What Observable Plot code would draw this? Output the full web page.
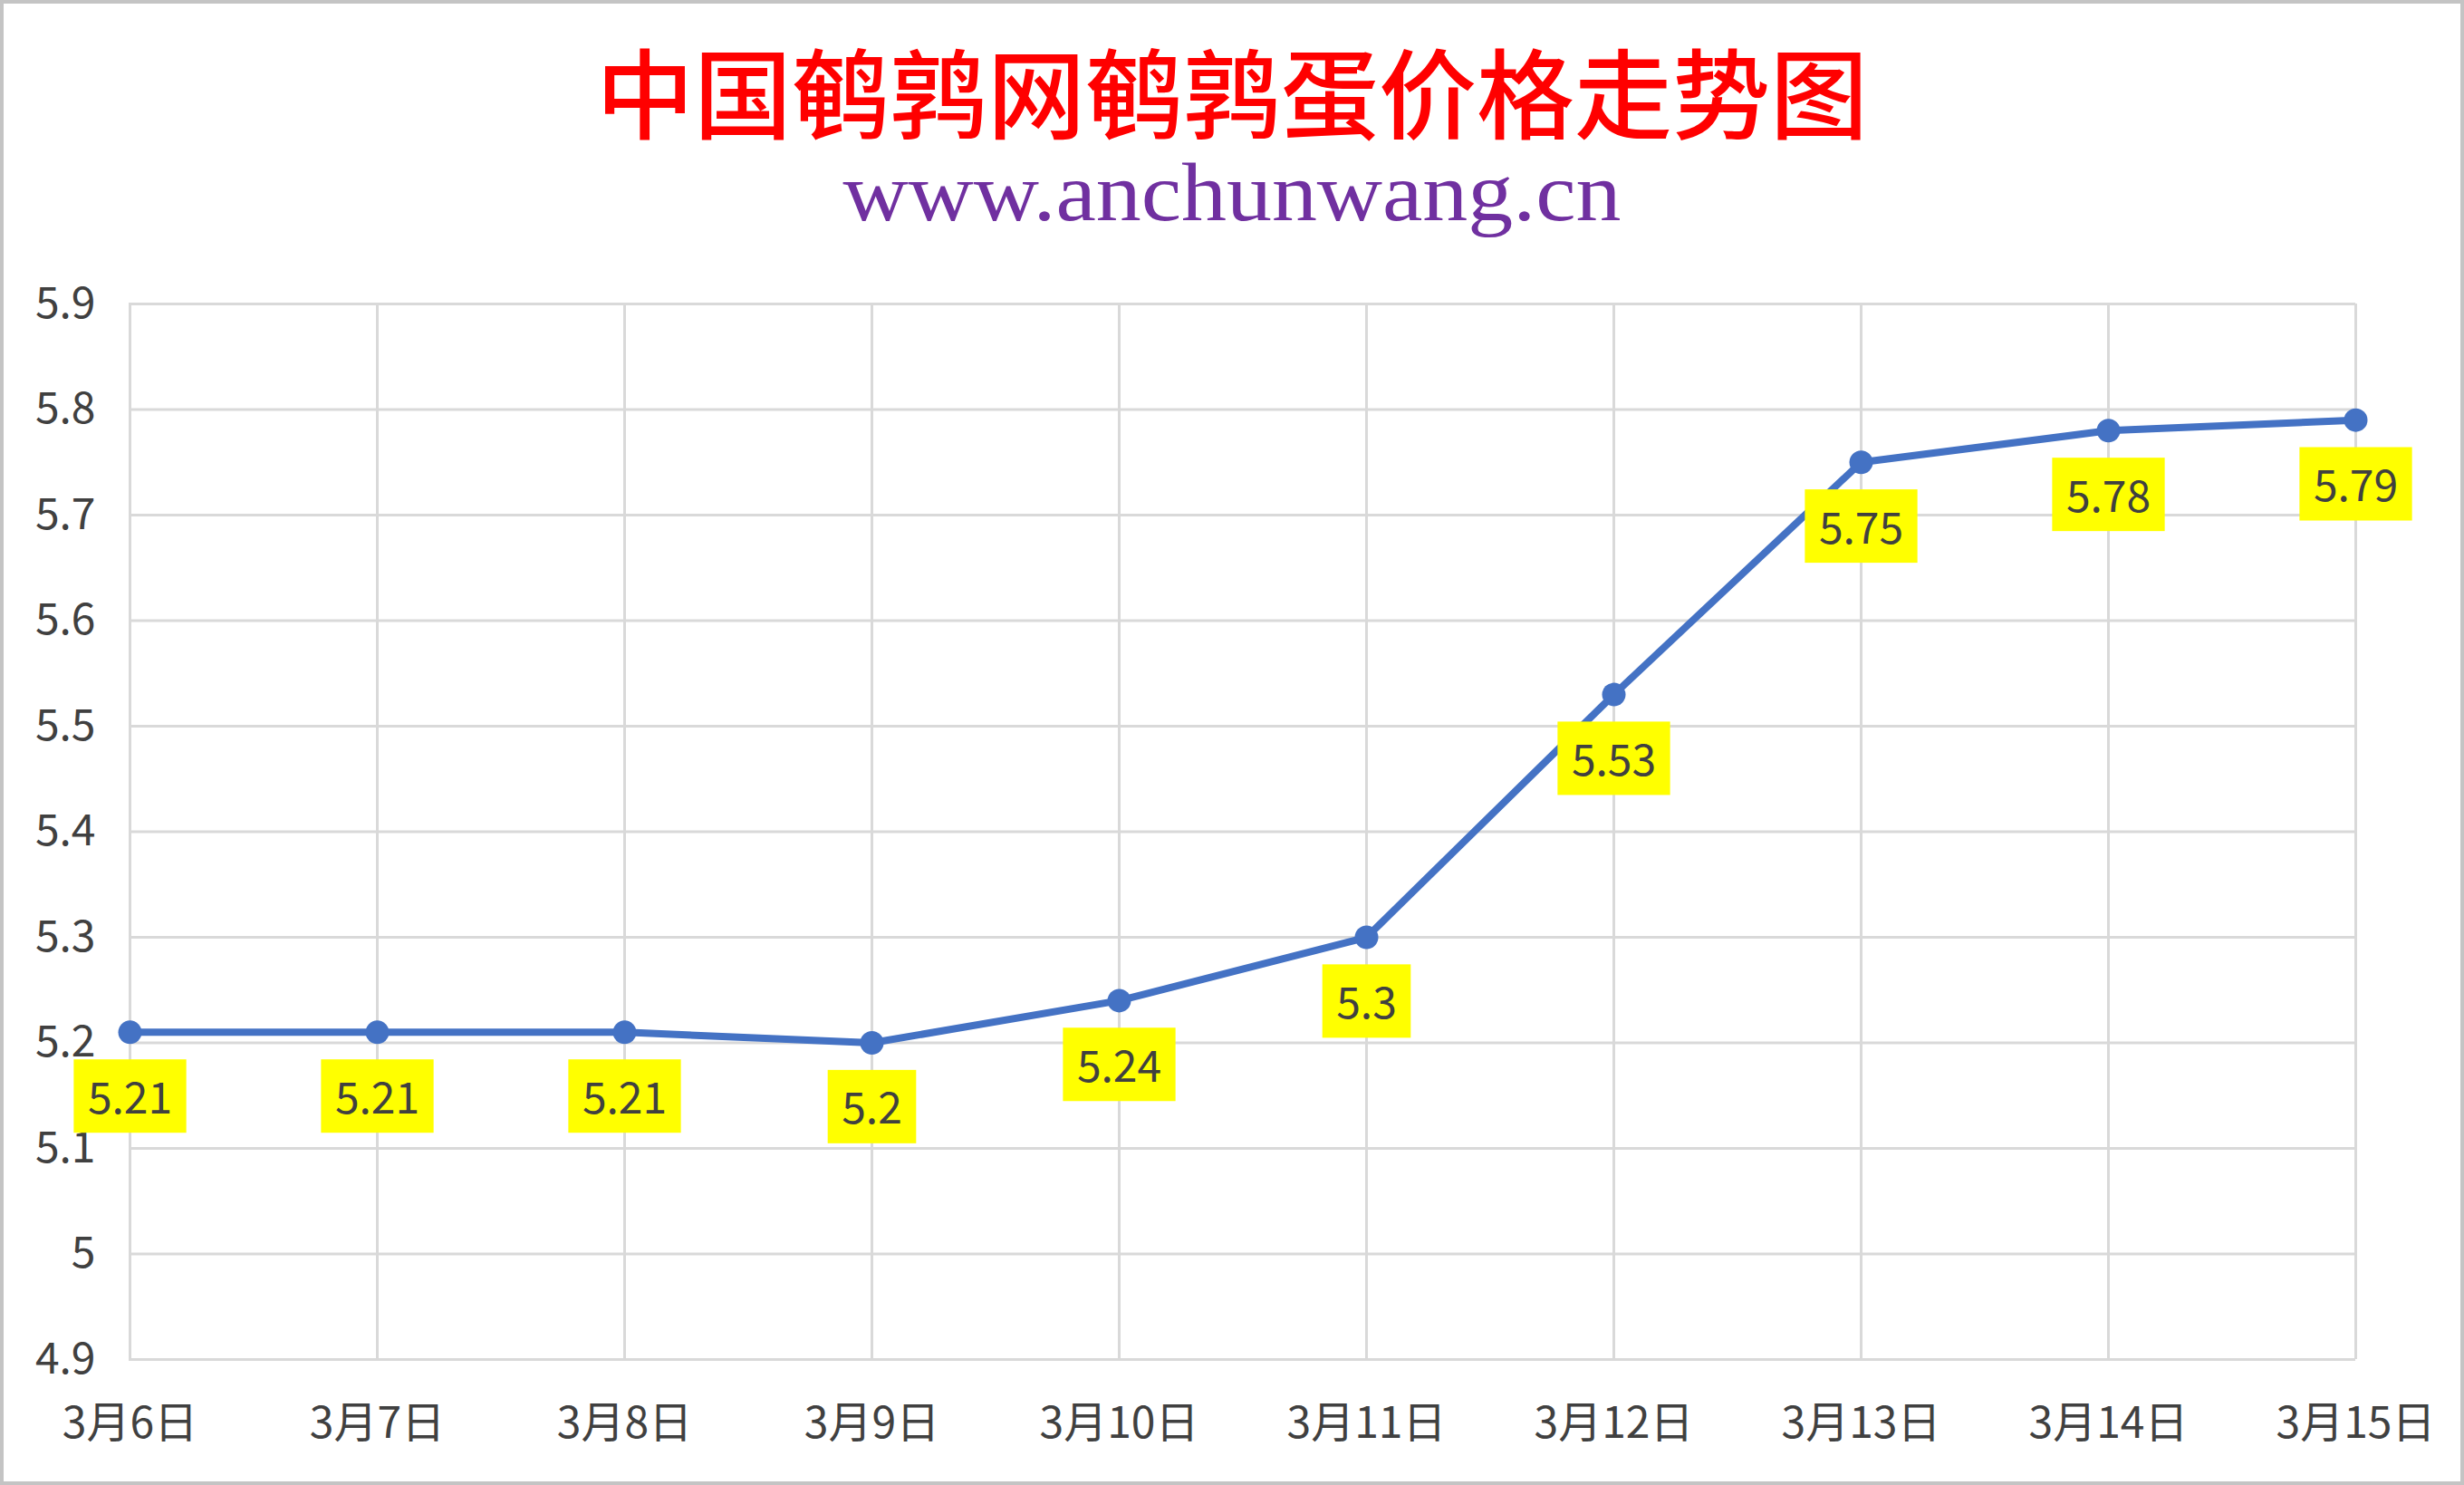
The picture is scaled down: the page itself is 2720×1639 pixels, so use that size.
<!DOCTYPE html>
<html>
<head>
<meta charset="utf-8">
<script src="https://cdn.jsdelivr.net/npm/d3@7"></script>
<script src="https://cdn.jsdelivr.net/npm/@observablehq/plot@0.6"></script>
<style>
  html, body { margin: 0; padding: 0; background: #fff; }
  #wrap { position: relative; width: 2720px; height: 1639px; background: #fff; overflow: hidden; }
  #border { position: absolute; left: 0; top: 0; width: 2720px; height: 1639px; box-sizing: border-box; border: 4px solid #c4c4c4; pointer-events: none; z-index: 5; }
  #header { position: relative; width: 2720px; height: 270px; }
  #title { position: absolute; left: 0; width: 2720px; top: 44px; text-align: center;
    font-family: "Noto Sans CJK SC", sans-serif; font-weight: 500; font-size: 108px; line-height: 108px; color: #ff0000; }
  #subtitle { position: absolute; left: 0; width: 2720px; top: 168px; text-align: center;
    font-family: "Liberation Serif", "DejaVu Serif", serif; font-size: 90px; line-height: 90px; color: #7030A0;
    transform: scaleX(1.11); transform-origin: 1360px 0; }
  #chart svg { display: block; }
</style>
</head>
<body>
<div id="wrap">
  <div id="header">
    <div id="title">中国鹌鹑网鹌鹑蛋价格走势图</div>
    <div id="subtitle">www.anchunwang.cn</div>
  </div>
  <div id="chart"></div>
  <div id="border"></div>
</div>
<script>
const dates = ["3月6日", "3月7日", "3月8日", "3月9日", "3月10日", "3月11日", "3月12日", "3月13日", "3月14日", "3月15日"];
const prices = [5.21, 5.21, 5.21, 5.2, 5.24, 5.3, 5.53, 5.75, 5.78, 5.79];
const yTicks = [4.9, 5, 5.1, 5.2, 5.3, 5.4, 5.5, 5.6, 5.7, 5.8, 5.9];

const data = dates.map((d, i) => ({date: d, price: prices[i]}));

const chart = Plot.plot({
  width: 2720,
  height: 1369,
  marginTop: 65,
  marginBottom: 139,
  marginLeft: 142,
  marginRight: 120,
  style: {fontFamily: "'Noto Sans CJK SC', sans-serif", fontSize: "48px", color: "#404040", background: "transparent"},
  x: {type: "point", domain: dates, padding: 0, label: null},
  y: {domain: [4.9, 5.9], label: null},
  marks: [
    Plot.gridX(dates, {stroke: "#d9d9d9", strokeOpacity: 1, strokeWidth: 3}),
    Plot.gridY(yTicks, {stroke: "#d9d9d9", strokeOpacity: 1, strokeWidth: 3}),
    Plot.axisX({tickSize: 0, tickPadding: 52, fontSize: 48, label: null}),
    Plot.axisY(yTicks, {tickSize: 0, tickPadding: 37, fontSize: 48, label: null, tickFormat: d => String(d)}),
    Plot.line(data, {x: "date", y: "price", stroke: "#4472C4", strokeWidth: 8}),
    Plot.dot(data, {x: "date", y: "price", r: 13, fill: "#4472C4", stroke: "none"}),
    Plot.text(data, {x: "date", y: "price", text: d => String(d.price), dy: 74, fontSize: 48, fill: "#404040"})
  ]
});
document.getElementById("chart").appendChild(chart);

function addBoxes() {
  const g = chart.querySelector('g[aria-label="text"]');
  if (!g) return;
  const texts = Array.from(g.querySelectorAll("text"));
  texts.forEach(t => {
    const b = t.getBBox();
    const r = document.createElementNS("http://www.w3.org/2000/svg", "rect");
    const cy = b.y + b.height / 2 + 2;
    r.setAttribute("x", b.x - 15.5);
    r.setAttribute("width", b.width + 31);
    r.setAttribute("y", cy - 40.5);
    r.setAttribute("height", 81);
    r.setAttribute("fill", "#FFFF00");
    r.setAttribute("stroke", "none");
    const tr = t.getAttribute("transform");
    if (tr) r.setAttribute("transform", tr);
    g.insertBefore(r, t);
  });
}
addBoxes();
</script>
</body>
</html>
